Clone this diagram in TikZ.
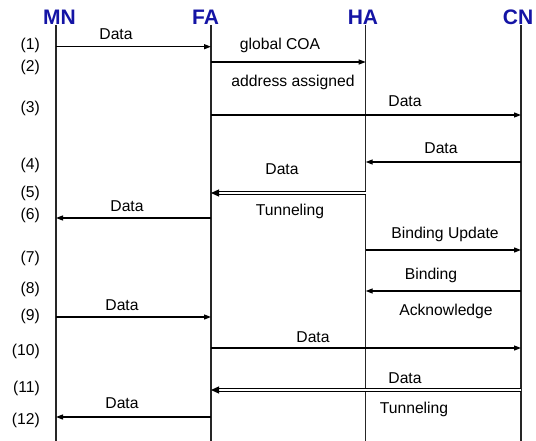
\documentclass[tikz,border=0pt]{standalone}
\usepackage{fontspec}
\setmainfont{Liberation Sans}
\usetikzlibrary{arrows.meta}
\definecolor{headblue}{RGB}{20,20,165}
\tikzset{
  head/.style={font=\fontsize{21}{24}\selectfont\bfseries, text=headblue, anchor=base, inner sep=0pt},
  lifeline/.style={line width=1.2pt, black!85},
  msg/.style={line width=1.2pt, -{Triangle[length=7pt,width=5pt]}},
  tunnel/.style={line width=1.2pt, double distance=1.8pt, -{Triangle[length=8pt,width=7pt]}},
  lbl/.style={font=\fontsize{15.7}{18}\selectfont, anchor=base, inner sep=0pt},
  stepno/.style={font=\fontsize{15.7}{18}\selectfont, anchor=east, inner sep=0pt},
}
\begin{document}
\begin{tikzpicture}[x=1pt,y=-1pt]
\useasboundingbox (0,0) rectangle (536,441);
% headers
\node[head] (MNh) at (59.5,25) {MN};
\node[head] (FAh) at (205.5,25) {FA};
\node[head] (HAh) at (363,25) {HA};
\node[head] (CNh) at (518,25) {CN};
% lifelines
\coordinate (MN) at (56,25);  \coordinate (MNb) at (56,441);
\coordinate (FA) at (211,25); \coordinate (FAb) at (211,441);
\coordinate (HA) at (365.7,25); \coordinate (HAb) at (365.7,441);
\coordinate (CN) at (521,25); \coordinate (CNb) at (521,441);
\draw[lifeline] (MN) -- (MNb);
\draw[lifeline] (FA) -- (FAb);
\draw[lifeline] (HA) -- (HAb);
\draw[lifeline] (CN) -- (CNb);
% step numbers
\node[stepno] (s1) at (40,45) {(1)};
\node[stepno] (s2) at (40,67) {(2)};
\node[stepno] (s3) at (40,108) {(3)};
\node[stepno] (s4) at (40,165) {(4)};
\node[stepno] (s5) at (40,193) {(5)};
\node[stepno] (s6) at (40,215) {(6)};
\node[stepno] (s7) at (40,258) {(7)};
\node[stepno] (s8) at (40,289) {(8)};
\node[stepno] (s9) at (40,316) {(9)};
\node[stepno] (s10) at (40,351) {(10)};
\node[stepno] (s11) at (40,388) {(11)};
\node[stepno] (s12) at (40,420) {(12)};
% messages
\draw[msg] (MN |- 0,46.7) -- (FA |- 0,46.7);
\node[lbl] (l1) at (116,40) {Data};
\draw[msg] (FA |- 0,62) -- (HA |- 0,62);
\node[lbl] (l2a) at (280,50) {global COA};
\node[lbl] (l2b) at (293,87) {address assigned};
\draw[msg] (FA |- 0,115) -- (CN |- 0,115);
\node[lbl] (l3) at (405,107) {Data};
\draw[msg] (CN |- 0,162) -- (HA |- 0,162);
\node[lbl] (l4) at (441,154) {Data};
\draw[tunnel] (HA |- 0,193) -- (FA |- 0,193);
\node[lbl] (l5a) at (282,175) {Data};
\node[lbl] (l5b) at (290,215) {Tunneling};
\draw[msg] (FA |- 0,218) -- (MN |- 0,218);
\node[lbl] (l6) at (127,211.5) {Data};
\draw[msg] (HA |- 0,250) -- (CN |- 0,250);
\node[lbl] (l7) at (445,238) {Binding Update};
\draw[msg] (CN |- 0,291) -- (HA |- 0,291);
\node[lbl] (l8a) at (431,279) {Binding};
\node[lbl] (l8b) at (446,315) {Acknowledge};
\draw[msg] (MN |- 0,317) -- (FA |- 0,317);
\node[lbl] (l9) at (122,310) {Data};
\draw[msg] (FA |- 0,348) -- (CN |- 0,348);
\node[lbl] (l10) at (313,342) {Data};
\draw[tunnel] (CN |- 0,390) -- (FA |- 0,390);
\node[lbl] (l11a) at (405,383) {Data};
\node[lbl] (l11b) at (414,413) {Tunneling};
\draw[msg] (FA |- 0,417) -- (MN |- 0,417);
\node[lbl] (l12) at (122,408) {Data};
\end{tikzpicture}
\end{document}
